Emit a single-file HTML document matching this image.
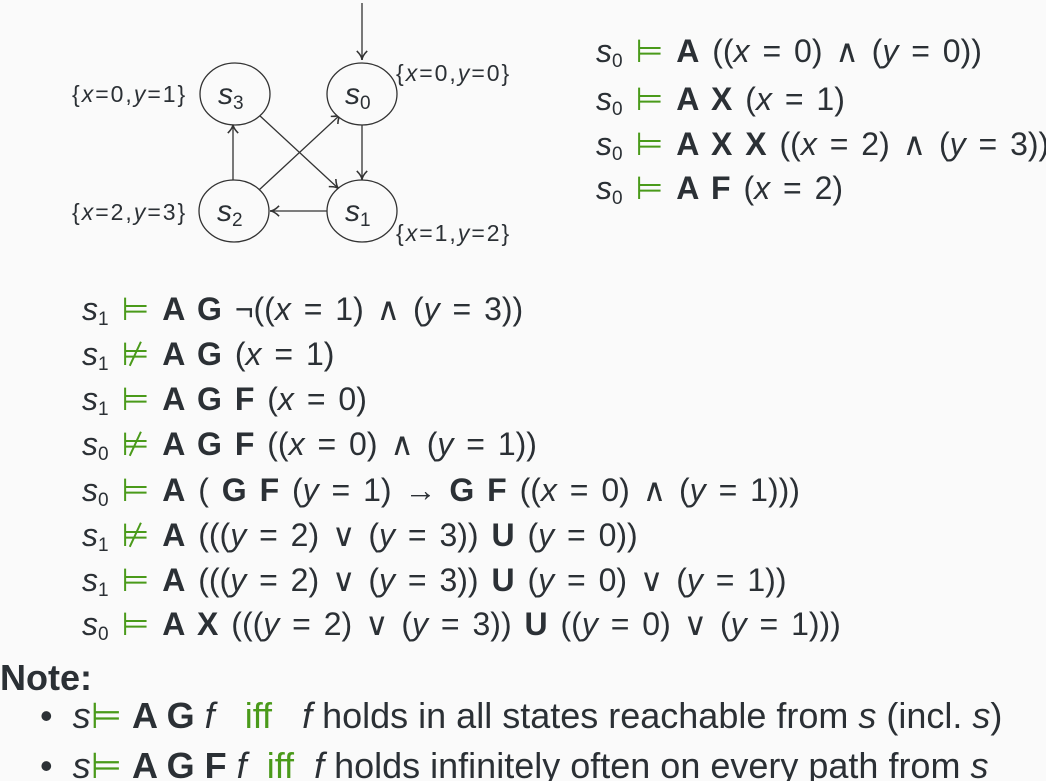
<!DOCTYPE html>
<html><head><meta charset="utf-8">
<style>
body{margin:0;background:#fafafa;}
#page{position:relative;width:1046px;height:781px;overflow:hidden;background:#fafafa;color:#2b3035;font-family:"Liberation Sans","DejaVu Sans",sans-serif;}
.f{position:absolute;font-size:32px;line-height:36px;white-space:pre;word-spacing:4px;}
.i{font-style:italic}
.b{font-weight:bold}
.g{color:#4a9a1a}
sub{font-size:19px;vertical-align:-5px;line-height:0}
.note{position:absolute;font-size:36px;white-space:pre;line-height:40px}
</style></head><body>
<div id="page">
<svg width="560" height="260" style="position:absolute;left:0;top:0" font-family="Liberation Sans, sans-serif">
<defs><marker id="ar" markerWidth="10" markerHeight="10" refX="8" refY="5" orient="auto"><path d="M1,1 Q5,5 8,5 Q5,5 1,9" fill="none" stroke="#333" stroke-width="1.2"/></marker></defs>
<g stroke="#333" stroke-width="1.3" fill="none">
<line x1="362" y1="3" x2="362" y2="60" marker-end="url(#ar)"/>
<line x1="362" y1="124" x2="362" y2="180" marker-end="url(#ar)"/>
<line x1="328" y1="211" x2="270" y2="211" marker-end="url(#ar)"/>
<line x1="233" y1="181" x2="233" y2="124" marker-end="url(#ar)"/>
<line x1="259" y1="190" x2="341" y2="114" marker-end="url(#ar)"/>
<line x1="259" y1="115" x2="339" y2="189" marker-end="url(#ar)"/>
<ellipse cx="235" cy="94" rx="35" ry="31" fill="#fafafa"/>
<ellipse cx="362" cy="94" rx="35" ry="31" fill="#fafafa"/>
<ellipse cx="234" cy="211" rx="35" ry="31" fill="#fafafa"/>
<ellipse cx="362" cy="211" rx="35" ry="31" fill="#fafafa"/>
</g>
<g fill="#2b3035" font-size="30" font-style="italic">
<text x="218" y="104">s<tspan font-size="19" font-style="normal" dy="5">3</tspan></text>
<text x="345" y="104">s<tspan font-size="19" font-style="normal" dy="5">0</tspan></text>
<text x="217" y="221">s<tspan font-size="19" font-style="normal" dy="5">2</tspan></text>
<text x="345" y="221">s<tspan font-size="19" font-style="normal" dy="5">1</tspan></text>
</g>
<g fill="#2b3035" font-size="23" letter-spacing="2">
<text x="72" y="102">{<tspan font-style="italic">x</tspan>=0,<tspan font-style="italic">y</tspan>=1}</text>
<text x="396" y="81">{<tspan font-style="italic">x</tspan>=0,<tspan font-style="italic">y</tspan>=0}</text>
<text x="72" y="220">{<tspan font-style="italic">x</tspan>=2,<tspan font-style="italic">y</tspan>=3}</text>
<text x="396" y="241">{<tspan font-style="italic">x</tspan>=1,<tspan font-style="italic">y</tspan>=2}</text>
</g>
</svg>

<div class="f" style="left:596px;top:33px"><span class="i">s</span><sub>0</sub> <span class="g">⊨</span> <span class="b">A</span> ((<span class="i">x</span> = 0) ∧ (<span class="i">y</span> = 0))</div>
<div class="f" style="left:596px;top:81px"><span class="i">s</span><sub>0</sub> <span class="g">⊨</span> <span class="b">A X</span> (<span class="i">x</span> = 1)</div>
<div class="f" style="left:596px;top:126px"><span class="i">s</span><sub>0</sub> <span class="g">⊨</span> <span class="b">A X X</span> ((<span class="i">x</span> = 2) ∧ (<span class="i">y</span> = 3))</div>
<div class="f" style="left:596px;top:170px"><span class="i">s</span><sub>0</sub> <span class="g">⊨</span> <span class="b">A F</span> (<span class="i">x</span> = 2)</div>

<div class="f" style="left:82px;top:291px"><span class="i">s</span><sub>1</sub> <span class="g">⊨</span> <span class="b">A G</span> ¬((<span class="i">x</span> = 1) ∧ (<span class="i">y</span> = 3))</div>
<div class="f" style="left:82px;top:336px"><span class="i">s</span><sub>1</sub> <span class="g">⊭</span> <span class="b">A G</span> (<span class="i">x</span> = 1)</div>
<div class="f" style="left:82px;top:381px"><span class="i">s</span><sub>1</sub> <span class="g">⊨</span> <span class="b">A G F</span> (<span class="i">x</span> = 0)</div>
<div class="f" style="left:82px;top:426px"><span class="i">s</span><sub>0</sub> <span class="g">⊭</span> <span class="b">A G F</span> ((<span class="i">x</span> = 0) ∧ (<span class="i">y</span> = 1))</div>
<div class="f" style="left:82px;top:472px"><span class="i">s</span><sub>0</sub> <span class="g">⊨</span> <span class="b">A</span> ( <span class="b">G F</span> (<span class="i">y</span> = 1) → <span class="b">G F</span> ((<span class="i">x</span> = 0) ∧ (<span class="i">y</span> = 1)))</div>
<div class="f" style="left:82px;top:517px"><span class="i">s</span><sub>1</sub> <span class="g">⊭</span> <span class="b">A</span> (((<span class="i">y</span> = 2) ∨ (<span class="i">y</span> = 3)) <span class="b">U</span> (<span class="i">y</span> = 0))</div>
<div class="f" style="left:82px;top:562px"><span class="i">s</span><sub>1</sub> <span class="g">⊨</span> <span class="b">A</span> (((<span class="i">y</span> = 2) ∨ (<span class="i">y</span> = 3)) <span class="b">U</span> (<span class="i">y</span> = 0) ∨ (<span class="i">y</span> = 1))</div>
<div class="f" style="left:82px;top:606px"><span class="i">s</span><sub>0</sub> <span class="g">⊨</span> <span class="b">A X</span> (((<span class="i">y</span> = 2) ∨ (<span class="i">y</span> = 3)) <span class="b">U</span> ((<span class="i">y</span> = 0) ∨ (<span class="i">y</span> = 1)))</div>

<div class="note b" style="left:0;top:658px">Note:</div>
<div class="note" style="left:40px;top:696px">•  <span class="i">s</span><span class="g">⊨</span> <span class="b">A G</span> <span class="i">f</span>   <span class="g">iff</span>   <span class="i">f</span> holds in all states reachable from <span class="i">s</span> (incl. <span class="i">s</span>)</div>
<div class="note" style="left:40px;top:746px">•  <span class="i">s</span><span class="g">⊨</span> <span class="b">A G F</span> <span class="i">f</span>  <span class="g">iff</span>  <span class="i">f</span> holds infinitely often on every path from <span class="i">s</span></div>
</div>
</body></html>
